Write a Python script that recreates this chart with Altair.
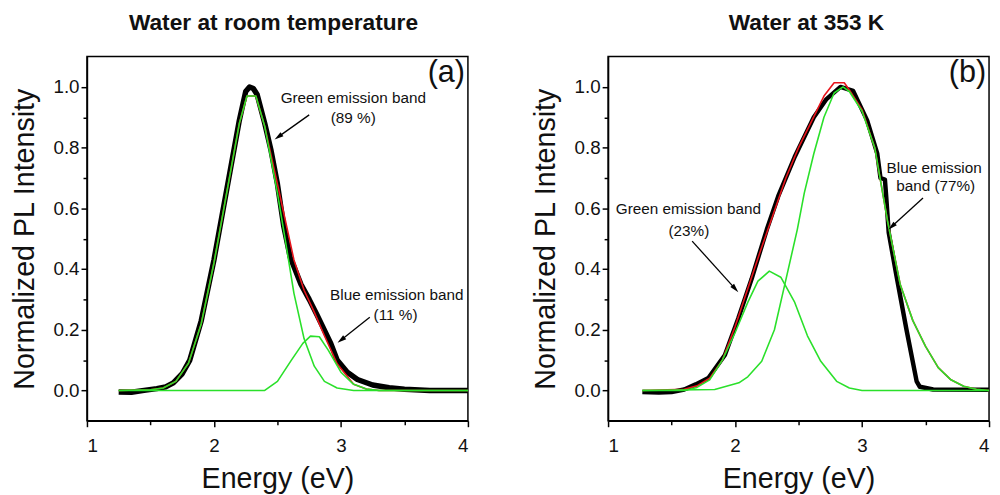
import math
import altair as alt
import pandas as pd

# ---------------- Panel (a): water at room temperature ----------------
a_black_E = [1.25, 1.35, 1.45, 1.55, 1.62, 1.68, 1.75, 1.81, 1.9, 2.0, 2.1, 2.2, 2.25, 2.28, 2.31, 2.34, 2.4, 2.45, 2.5, 2.55, 2.6, 2.685, 2.75, 2.81, 2.92, 2.97, 3.05, 3.13, 3.25, 3.38, 3.5, 3.7, 4.0]
a_black_I = [-0.005, -0.006, 0.0, 0.006, 0.012, 0.025, 0.055, 0.10, 0.23, 0.43, 0.66, 0.89, 0.985, 1.0, 0.995, 0.975, 0.88, 0.79, 0.68, 0.54, 0.44, 0.35, 0.30, 0.25, 0.155, 0.10, 0.06, 0.036, 0.018, 0.009, 0.004, 0.0, 0.0]

a_red_E = [1.25, 1.5, 1.6, 1.7, 1.8, 1.9, 2.0, 2.1, 2.2, 2.26, 2.33, 2.4, 2.5, 2.56, 2.63, 2.71, 2.79, 2.87, 2.97, 3.1, 3.2, 3.3, 4.0]
a_red_I = [0.0, 0.002, 0.008, 0.03, 0.09, 0.22, 0.42, 0.65, 0.88, 0.97, 0.97, 0.87, 0.68, 0.565, 0.43, 0.33, 0.258, 0.18, 0.088, 0.02, 0.005, 0.0, 0.0]

a_green_E = [1.25, 1.5, 1.6, 1.7, 1.8, 1.9, 2.0, 2.1, 2.2, 2.26, 2.33, 2.4, 2.5, 2.56, 2.63, 2.71, 2.79, 2.87, 2.97, 3.1, 4.0]
a_green_I = [0.0, 0.002, 0.008, 0.03, 0.09, 0.22, 0.42, 0.65, 0.88, 0.97, 0.97, 0.87, 0.65, 0.50, 0.32, 0.17, 0.08, 0.03, 0.008, 0.0, 0.0]

a_blue_E = [1.25, 2.4, 2.5, 2.61, 2.70, 2.76, 2.83, 2.90, 3.0, 3.1, 3.2, 3.3, 4.0]
a_blue_I = [0.0, 0.0, 0.03, 0.10, 0.155, 0.179, 0.177, 0.133, 0.06, 0.02, 0.005, 0.0, 0.0]

a_text = ["Green emission band", "(89 %)", "Blue emission band", "(11 %)"]
a_text_E = [3.097, 3.097, 3.44, 3.43]
a_text_I = [0.963, 0.898, 0.314, 0.249]

a_arrow_E1 = [2.75, 3.227]
a_arrow_I1 = [0.908, 0.2415]
a_arrow_E2 = [2.478, 2.974]
a_arrow_I2 = [0.827, 0.157]

# ---------------- Panel (b): water at 353 K ----------------
b_black_E = [1.27, 1.4, 1.5, 1.6, 1.69, 1.79, 1.92, 2.025, 2.13, 2.25, 2.34, 2.47, 2.62, 2.72, 2.83, 2.93, 3.04, 3.12, 3.145, 3.18, 3.19, 3.21, 3.27, 3.35, 3.43, 3.455, 3.56, 4.0]
b_black_I = [-0.005, -0.007, -0.005, 0.003, 0.02, 0.041, 0.117, 0.237, 0.367, 0.53, 0.64, 0.77, 0.90, 0.96, 1.0, 0.987, 0.89, 0.78, 0.70, 0.695, 0.64, 0.52, 0.38, 0.20, 0.03, 0.012, 0.003, 0.002]

b_red_E = [1.27, 1.6, 1.7, 1.8, 1.9, 2.0, 2.1, 2.2, 2.3, 2.4, 2.5, 2.6, 2.7, 2.78, 2.86, 2.9, 3.0, 3.1, 3.2, 3.3, 3.4, 3.5, 3.6, 3.7, 3.8, 3.9, 4.0]
b_red_I = [0.0, 0.004, 0.015, 0.04, 0.1, 0.21, 0.335, 0.46, 0.58, 0.70, 0.80, 0.885, 0.97, 1.014, 1.014, 0.99, 0.925, 0.80, 0.56, 0.35, 0.23, 0.145, 0.075, 0.035, 0.014, 0.004, 0.0]

b_green_E = [1.27, 1.6, 1.7, 1.8, 1.9, 2.0, 2.1, 2.18, 2.27, 2.36, 2.47, 2.57, 2.675, 2.8, 2.9, 3.0, 4.0]
b_green_I = [0.0, 0.0, 0.01, 0.035, 0.10, 0.19, 0.29, 0.36, 0.393, 0.373, 0.29, 0.18, 0.096, 0.03, 0.008, 0.0, 0.0]

b_blue_E = [1.27, 1.84, 2.03, 2.1, 2.21, 2.31, 2.39, 2.49, 2.545, 2.62, 2.70, 2.78, 2.85, 2.9, 3.0, 3.1, 3.2, 3.3, 3.4, 3.5, 3.6, 3.7, 3.8, 3.9, 4.0]
b_blue_I = [0.0, 0.003, 0.025, 0.045, 0.096, 0.20, 0.346, 0.53, 0.65, 0.78, 0.90, 0.98, 1.0, 0.985, 0.92, 0.80, 0.56, 0.35, 0.23, 0.145, 0.075, 0.035, 0.014, 0.004, 0.0]

b_text = ["Green emission band", "(23%)", "Blue emission", "band (77%)"]
b_text_E = [1.633, 1.636, 3.568, 3.58]
b_text_I = [0.596, 0.525, 0.734, 0.672]

b_arrow_E1 = [1.662, 3.48]
b_arrow_I1 = [0.492, 0.634]
b_arrow_E2 = [2.025, 3.208]
b_arrow_I2 = [0.324, 0.530]

# ---------------- axes ----------------
x_values = [1, 1.5, 2, 2.5, 3, 3.5, 4]
y_values = [0.0, 0.1, 0.2, 0.3, 0.4, 0.5, 0.6, 0.7, 0.8, 0.9, 1.0]
X_DOMAIN = [1, 4]
Y_DOMAIN = [-0.1, 1.1]

W, H = 386, 369
FONT = "Liberation Sans"
BLACK = "#000000"
RED = "#e8141c"
GREEN = "#2ae02a"

x_axis = alt.Axis(
    values=x_values,
    labelExpr="datum.value % 1 == 0 ? format(datum.value, 'd') : ''",
    tickSize={"condition": {"test": "datum.value % 1 == 0", "value": 6}, "value": 4},
    title="Energy (eV)", labelPadding=10, titlePadding=10,
)
y_axis = alt.Axis(
    values=y_values,
    labelExpr="round(datum.value * 10) % 2 == 0 ? format(datum.value, '.1f') : ''",
    tickSize={"condition": {"test": "round(datum.value * 10) % 2 == 0", "value": 6}, "value": 4},
    title="Normalized PL Intensity", labelPadding=2, titlePadding=14,
)
x_scale = alt.Scale(domain=X_DOMAIN, nice=False, zero=False)
y_scale = alt.Scale(domain=Y_DOMAIN, nice=False, zero=False)


def X(f):
    return alt.X(f, type="quantitative", scale=x_scale, axis=x_axis)


def Y(f):
    return alt.Y(f, type="quantitative", scale=y_scale, axis=y_axis)


def curve(E, I, color, width):
    df = pd.DataFrame({"E": E, "I": I})
    return alt.Chart(df).mark_line(color=color, strokeWidth=width, strokeJoin="round").encode(
        x=X("E"), y=Y("I"))


def arrows(E1, I1, E2, I2):
    px_x = W / (X_DOMAIN[1] - X_DOMAIN[0])
    px_y = H / (Y_DOMAIN[1] - Y_DOMAIN[0])
    rows = []
    head = 4.5
    for e1, i1, e2, i2 in zip(E1, I1, E2, I2):
        dx = (e2 - e1) * px_x
        dy = -(i2 - i1) * px_y
        L = math.hypot(dx, dy)
        ux, uy = dx / L, dy / L
        ang = math.degrees(math.atan2(ux, -uy)) % 360
        ce = e2 - ux * head / px_x
        ci = i2 + uy * head / px_y
        rows.append({"E1": e1, "I1": i1, "E2": ce, "I2": ci, "ang": ang})
    df = pd.DataFrame(rows)
    line = alt.Chart(df).mark_rule(color=BLACK, strokeWidth=1.3).encode(
        x=X("E1"), y=Y("I1"), x2="E2:Q", y2="I2:Q")
    hd = alt.Chart(df).mark_point(
        shape="M0,-1L0.55,1L-0.55,1Z", filled=True, color=BLACK, opacity=1, size=85, strokeWidth=0
    ).encode(x=X("E2"), y=Y("I2"), angle=alt.Angle("ang:Q", scale=None))
    return line + hd


def texts(T, E, I):
    df = pd.DataFrame({"t": T, "E": E, "I": I})
    return alt.Chart(df).mark_text(font=FONT, fontSize=15.5, color="#111111", align="center", baseline="middle").encode(
        x=X("E"), y=Y("I"), text="t:N")


def tag(label):
    df = pd.DataFrame({"t": [label], "E": [3.83], "I": [1.044]})
    return alt.Chart(df).mark_text(font=FONT, fontSize=31, color="#111111", align="center", baseline="middle").encode(
        x=X("E"), y=Y("I"), text="t:N")


def panel(bk, rd, gr, bl, tx, ar, label, title, dx, bw):
    layers = [
        curve(bk[0], bk[1], BLACK, bw),
        curve(rd[0], rd[1], RED, 1.6),
        curve(gr[0], gr[1], GREEN, 1.6),
        curve(bl[0], bl[1], GREEN, 1.6),
        texts(*tx),
        arrows(*ar),
        tag(label),
    ]
    return alt.layer(*layers).properties(
        width=W, height=H,
        title=alt.TitleParams(title, font=FONT, fontSize=23, fontWeight="bold", anchor="middle",
                              offset=22, dx=dx, color="#111111"),
    )


left = panel((a_black_E, a_black_I), (a_red_E, a_red_I), (a_green_E, a_green_I), (a_blue_E, a_blue_I),
             (a_text, a_text_E, a_text_I), (a_arrow_E1, a_arrow_I1, a_arrow_E2, a_arrow_I2),
             "(a)", "Water at room temperature", -4, 5.5)
right = panel((b_black_E, b_black_I), (b_red_E, b_red_I), (b_green_E, b_green_I), (b_blue_E, b_blue_I),
              (b_text, b_text_E, b_text_I), (b_arrow_E1, b_arrow_I1, b_arrow_E2, b_arrow_I2),
              "(b)", "Water at 353 K", 8, 4.5)

chart = alt.hconcat(left, right, spacing=59).properties(
    padding={"left": 1, "top": 0, "right": 0, "bottom": 0}
).resolve_scale(x="independent", y="independent").configure_view(
    stroke=BLACK, strokeWidth=1.5
).configure_axis(
    labelFont=FONT, labelFontSize=19, labelColor="#111111",
    titleFont=FONT, titleFontSize=29, titleFontWeight="normal", titleColor="#111111",
    domainColor=BLACK, domainWidth=1.5, tickColor=BLACK, tickWidth=1.5, grid=False,
)

chart.save("out.html", embed_options={"renderer": "svg", "actions": False})
